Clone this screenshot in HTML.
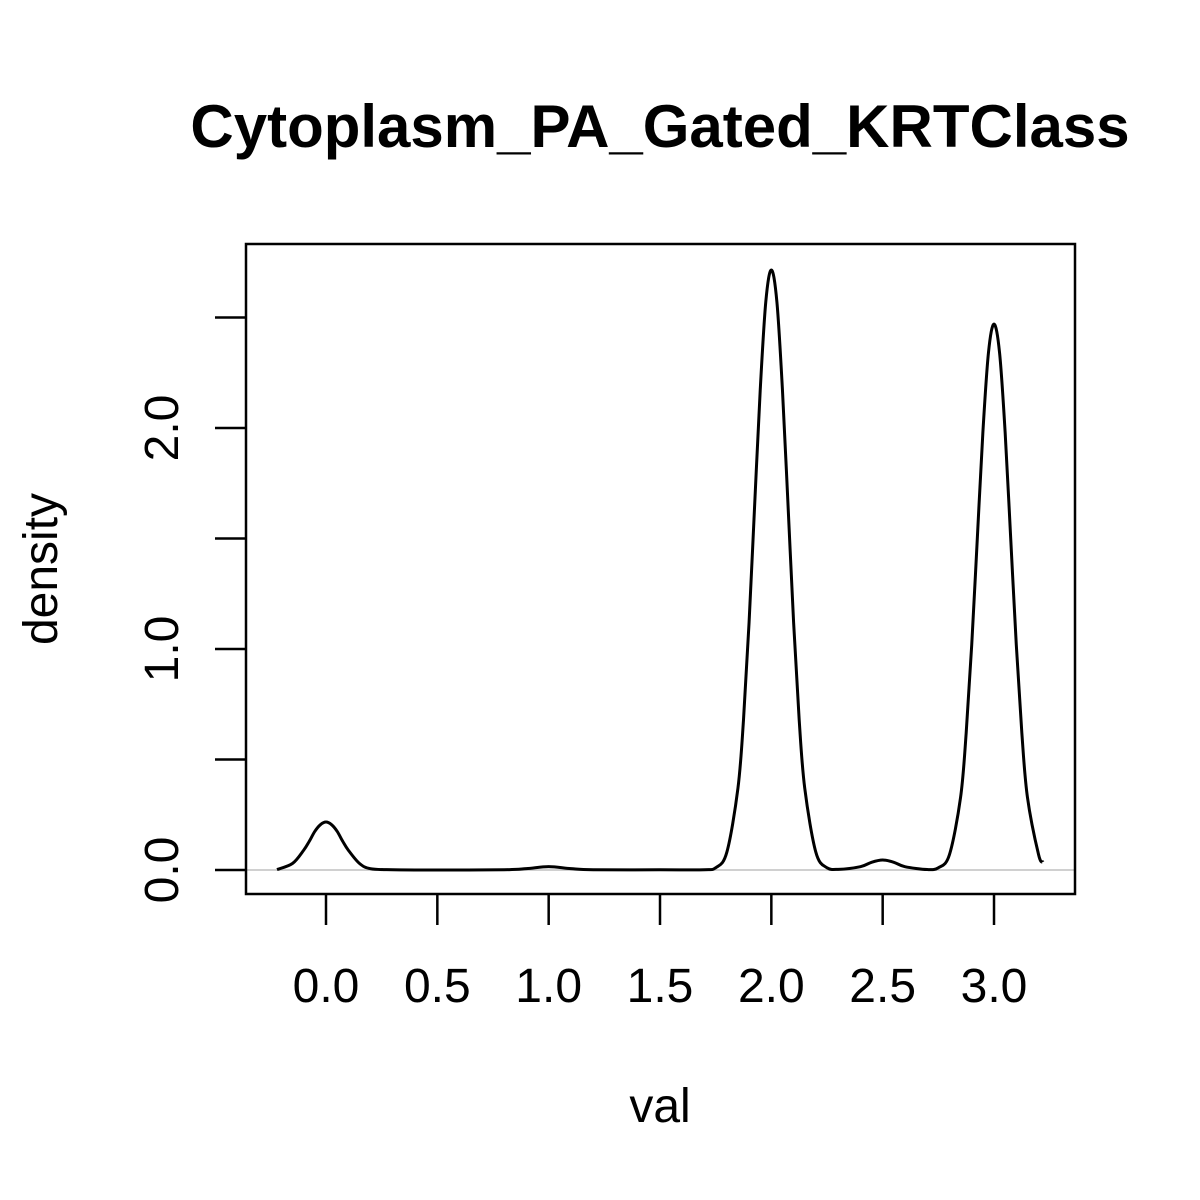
<!DOCTYPE html>
<html><head><meta charset="utf-8"><style>
html,body{margin:0;padding:0;background:#fff;}
svg{display:block;font-family:"Liberation Sans",Arial,sans-serif;}
</style></head><body>
<svg id="chart" width="1200" height="1200" viewBox="0 0 1200 1200">
<rect width="1200" height="1200" fill="#fff"/>
<text x="660" y="147" font-size="60" font-weight="bold" text-anchor="middle">Cytoplasm_PA_Gated_KRTClass</text>
<line x1="246" x2="1075" y1="870" y2="870" stroke="#d0d0d0" stroke-width="2"/>
<g id="xaxis"></g>
<g id="yaxis"></g>
<path id="curve" fill="none" stroke="#000" stroke-width="3"/>
<rect x="246" y="244" width="829" height="650" fill="none" stroke="#000" stroke-width="2.5"/>
<text x="660" y="1122" font-size="48" text-anchor="middle">val</text>
<text transform="translate(57,569) rotate(-90)" font-size="48" text-anchor="middle">density</text>
</svg>
<script>
const xVals=[-0.22,-0.15,-0.1,-0.075,-0.05,-0.025,0,0.025,0.05,0.075,0.1,0.15,0.2,0.3,0.5,0.8,0.9,1.0,1.1,1.2,1.5,1.7,1.75,1.8,1.85,1.875,1.9,1.925,1.95,1.975,2.0,2.025,2.05,2.075,2.1,2.125,2.15,2.2,2.25,2.3,2.4,2.45,2.5,2.55,2.6,2.7,2.75,2.8,2.85,2.875,2.9,2.925,2.95,2.975,3.0,3.025,3.05,3.075,3.1,3.125,3.15,3.2,3.22];
const yVals=[0.002,0.03,0.09,0.13,0.175,0.205,0.217,0.205,0.175,0.13,0.09,0.03,0.006,0.001,0.0,0.001,0.006,0.015,0.006,0.001,0.001,0.001,0.01,0.08,0.37,0.68,1.12,1.65,2.17,2.57,2.715,2.57,2.17,1.65,1.12,0.68,0.37,0.08,0.01,0.003,0.015,0.035,0.045,0.035,0.015,0.002,0.01,0.07,0.33,0.62,1.02,1.5,1.98,2.34,2.47,2.34,1.98,1.5,1.02,0.62,0.33,0.07,0.036];
const xTicks=[0,0.5,1,1.5,2,2.5,3];
const xTickLabels=["0.0","0.5","1.0","1.5","2.0","2.5","3.0"];
const yTicks=[0,0.5,1,1.5,2,2.5];
const yTickLabels=["0.0","","1.0","","2.0",""];
const sx=v=>326+v*222.67;
const sy=v=>870-v*221;
const NS="http://www.w3.org/2000/svg";
const xa=document.getElementById('xaxis'),ya=document.getElementById('yaxis');
function mk(tag,attrs,parent){const e=document.createElementNS(NS,tag);for(const k in attrs)e.setAttribute(k,attrs[k]);parent.appendChild(e);return e;}
xTicks.forEach((t,i)=>{
 const l=mk('line',{x1:sx(t),x2:sx(t),y1:894,y2:925,stroke:'#000','stroke-width':2.5},xa);
 
 
 const tx=mk('text',{x:sx(t),y:1002,'font-size':48,'text-anchor':'middle'},xa);
 tx.textContent=xTickLabels[i];
 
 
});
yTicks.forEach((t,i)=>{
 const l=mk('line',{x1:215,x2:246,y1:sy(t),y2:sy(t),stroke:'#000','stroke-width':2.5},ya);
 
 
 if(yTickLabels[i]){
  const tx=mk('text',{transform:`translate(178,${sy(t)}) rotate(-90)`,'font-size':48,'text-anchor':'middle'},ya);
  tx.textContent=yTickLabels[i];
  
  
 }
});
const P=xVals.map((x,i)=>[sx(x),sy(yVals[i])]);
let d=`M${P[0][0]},${P[0][1]}`;
for(let i=0;i<P.length-1;i++){
 const p0=P[Math.max(0,i-1)],p1=P[i],p2=P[i+1],p3=P[Math.min(P.length-1,i+2)];
 let c1y=p1[1]+(p2[1]-p0[1])/6,c2y=p2[1]-(p3[1]-p1[1])/6;
 c1y=Math.min(c1y,sy(0));c2y=Math.min(c2y,sy(0));
 d+=` C${p1[0]+(p2[0]-p0[0])/6},${c1y} ${p2[0]-(p3[0]-p1[0])/6},${c2y} ${p2[0]},${p2[1]}`;
}
document.getElementById('curve').setAttribute('d',d);
</script>
</body></html>
